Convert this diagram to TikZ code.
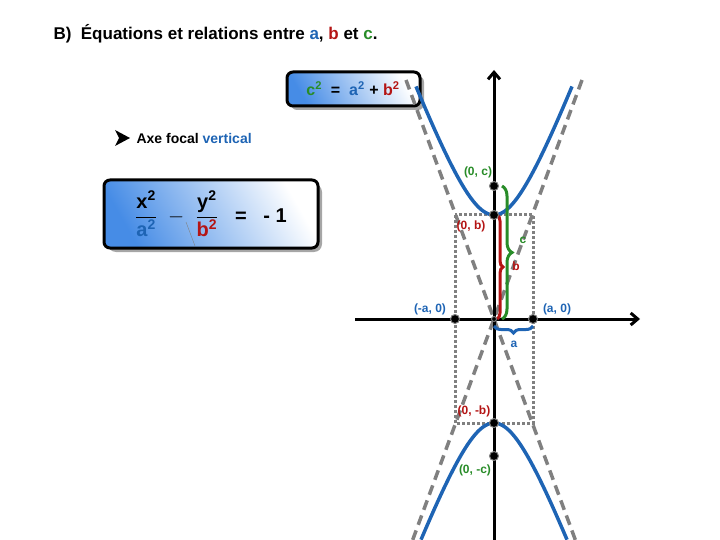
\documentclass[tikz,border=0pt]{standalone}
\usepackage{fontspec}
\setmainfont{Liberation Sans}
\usetikzlibrary{decorations.pathreplacing,arrows.meta}
\definecolor{cblue}{RGB}{30,100,180}
\definecolor{cred}{RGB}{180,20,20}
\definecolor{cgreen}{RGB}{40,140,40}
\definecolor{lblue}{RGB}{70,140,230}
\begin{document}
\begin{tikzpicture}[x=1pt,y=-1pt,
  lab/.style={font=\bfseries\fontsize{12}{14}\selectfont,inner sep=1pt},
  eqbox/.style={rounded corners=6pt,draw=black,line width=3pt,left color=lblue,right color=white,shading angle=120},
  dot/.style={circle,fill=black,draw=gray,line width=1pt,inner sep=0pt,minimum size=9pt},
  asym/.style={gray,line width=3.5pt,dash pattern=on 10pt off 6pt},
  rect/.style={gray,line width=3pt,dash pattern=on 3pt off 2pt},
  hyp/.style={cblue,line width=3.5pt},
  br/.style={decorate,line width=3pt}]
\useasboundingbox (0,0) rectangle (720,540);
\node[anchor=west,font=\bfseries\fontsize{17}{20}\selectfont] (title) at (50,34) {B)\ \ Équations et relations entre \textcolor{cblue}{a}, \textcolor{cred}{b} et \textcolor{cgreen}{c}.};
% box 1
\fill[gray!70,rounded corners=6pt] (291,76) rectangle (424,110);
\shade[eqbox] (287,72) rectangle (420,106);
\node[font=\bfseries\fontsize{16}{18}\selectfont] (eq1) at (353,89) {\textcolor{cgreen}{c\textsuperscript{2}}\ \ =\ \ \textcolor{cblue}{a\textsuperscript{2}} + \textcolor{cred}{b\textsuperscript{2}}};
% arrow bullet
\fill (115,130) -- (130,138) -- (115,146) -- (119,138) -- cycle;
\node[anchor=west,font=\bfseries\fontsize{14}{16}\selectfont] (axe) at (133,138) {Axe focal \textcolor{cblue}{vertical}};
% box 2
\fill[gray!70,rounded corners=8pt] (108,184) rectangle (322,252);
\shade[eqbox] (104,180) rectangle (318,248);
\node[font=\bfseries\fontsize{20}{22}\selectfont] (eq2) at (211,214) {$\displaystyle\frac{\mbox{x\textsuperscript{2}}}{\mbox{\textcolor{cblue}{a\textsuperscript{2}}}}$\ \ $-$\ \ $\displaystyle\frac{\mbox{y\textsuperscript{2}}}{\mbox{\textcolor{cred}{b\textsuperscript{2}}}}$\ \ \ =\ \ \ - 1};
\draw[gray,thin] (186,222) -- (195,246);
% rectangle & asymptotes
\draw[rect] (455,215) rectangle (533,423);
\draw[asym] (406,80) -- (582,558);
\draw[asym] (582,80) -- (406,558);
% hyperbola
\draw[hyp,domain=-78:78,samples=80] plot ({494+\x},{319-104*sqrt(1+(\x/39)^2)});
\draw[hyp,domain=-73:73,samples=80] plot ({494+\x},{319+104*sqrt(1+(\x/39)^2)});
% axes
\coordinate (xs) at (355,319); \coordinate (xe) at (640,319);
\coordinate (ys) at (494,540); \coordinate (ye) at (494,70);
\draw[line width=3pt,-{Straight Barb[length=7pt,width=12pt]}] (xs) -- (xe);
\draw[line width=3pt,-{Straight Barb[length=7pt,width=12pt]}] (ys) -- (ye);
% braces
\draw[br,cgreen,decoration={brace,amplitude=10pt}] (502,186) -- (502,319);
\draw[br,cred,decoration={brace,mirror,amplitude=6pt}] (497,319) -- (497,215);
\draw[br,cblue,decoration={brace,amplitude=7pt}] (533,326) -- (494,326);
% points
\node[dot] (pc) at (494,186) {};
\node[dot] (pb) at (494,215) {};
\node[dot] (pma) at (455,319) {};
\node[dot] (pa) at (533,319) {};
\node[dot] (pmb) at (494,423) {};
\node[dot] (pmc) at (494,456) {};
\node[dot,minimum size=5pt] (o) at (494,319) {};
% labels
\node[lab,text=cgreen] (lc) at (478,172) {(0, c)};
\node[lab,text=cred] (lb) at (471,226) {(0, b)};
\node[lab,text=cgreen] (llc) at (523,240) {c};
\node[lab,text=cred] (llb) at (516,266) {b};
\node[lab,text=cblue] (lma) at (430,309) {(-a, 0)};
\node[lab,text=cblue] (la) at (557,309) {(a, 0)};
\node[lab,text=cblue] (lla) at (514,344) {a};
\node[lab,text=cred] (lmb) at (474,411) {(0, -b)};
\node[lab,text=cgreen] (lmc) at (475,470) {(0, -c)};
\end{tikzpicture}
\end{document}
